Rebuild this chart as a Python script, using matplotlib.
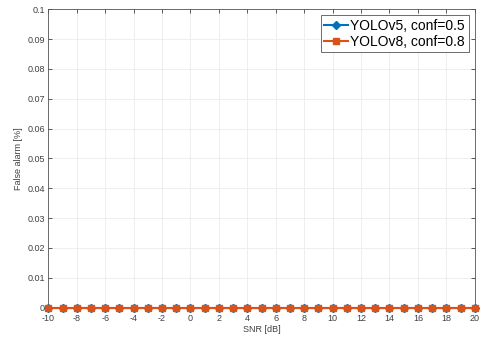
import numpy as np
import matplotlib.pyplot as plt

plt.rcParams['font.family'] = ['Liberation Sans', 'DejaVu Sans']
plt.rcParams['axes.unicode_minus'] = False

# SNR points and false alarm values
snr = list(range(-10, 21))
fa_yolov5 = [0.0] * len(snr)
fa_yolov8 = [0.0] * len(snr)
labels = ['YOLOv5, conf=0.5', 'YOLOv8, conf=0.8']

fig = plt.figure(figsize=(4.83, 3.41), dpi=100)
ax = fig.add_axes([0.1, 0.098, 0.883, 0.875])

ax.plot(snr, fa_yolov5, color='#0072BD', marker='D', markersize=4.5, linewidth=1.5,
        label=labels[0], clip_on=False, zorder=3)
ax.plot(snr, fa_yolov8, color='#D95319', marker='s', markersize=5, linewidth=1.5,
        label=labels[1], clip_on=False, zorder=4)

ax.set_xlim(-10, 20)
ax.set_ylim(0, 0.1)
ax.set_xticks(np.arange(-10, 21, 2))
ax.set_yticks(np.arange(0, 0.101, 0.01))
ax.set_yticklabels(['0'] + ['%g' % round(v, 2) for v in np.arange(0.01, 0.101, 0.01)])
ax.tick_params(direction='in', top=True, right=True, labelsize=6.5, colors='#404040',
               length=3, width=0.6)
ax.tick_params(axis='x', pad=4.5)
ax.tick_params(axis='y', pad=2.5)
ax.grid(True, color='#ebebeb', linewidth=0.6)
ax.set_axisbelow(True)
for s in ax.spines.values():
    s.set_color('#555555')
    s.set_linewidth(0.6)

ax.set_xlabel('SNR [dB]', fontsize=6.5, color='#404040', labelpad=1.5)
ax.set_ylabel('False alarm [%]', fontsize=6.5, color='#404040', labelpad=3)

leg = ax.legend(loc='upper right', fontsize=10, fancybox=False, framealpha=1,
                edgecolor='#555555', handlelength=1.7, handletextpad=0.2,
                borderpad=0.25, labelspacing=0.15, borderaxespad=0.45)
leg.get_frame().set_linewidth(0.6)

fig.savefig('out.png', dpi=100)
